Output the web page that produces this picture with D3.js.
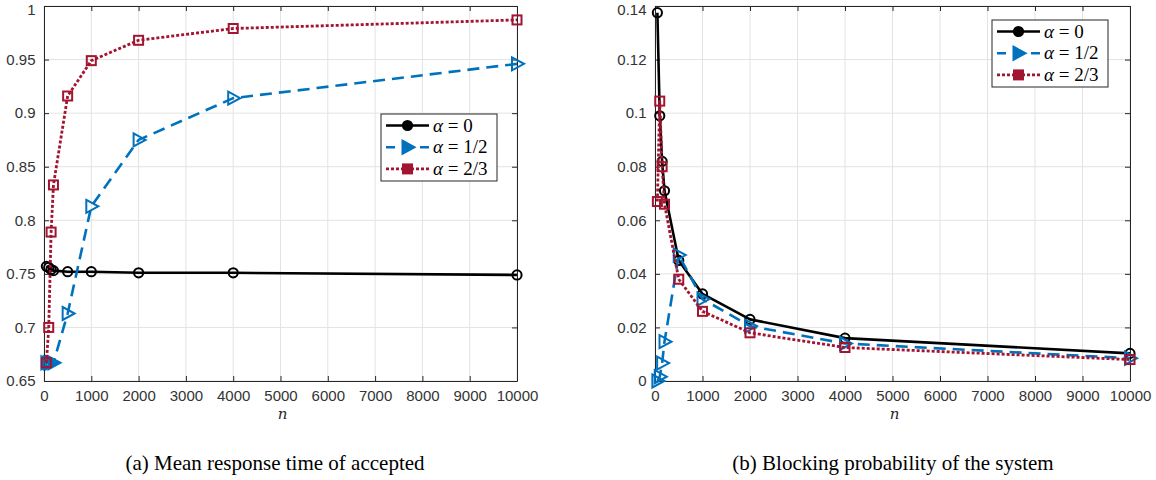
<!DOCTYPE html>
<html>
<head>
<meta charset="utf-8">
<script src="https://cdn.jsdelivr.net/npm/d3@7"></script>
<style>
  body { margin: 0; background: #fff; }
  svg { display: block; }
  .tick text { font-family: "Liberation Sans", Arial, sans-serif; font-size: 15px; fill: #333; }
</style>
</head>
<body>
<div id="chart"></div>
<script>
// sample sizes n
const nValues = [50, 100, 150, 200, 500, 1000, 2000, 4000, 10000];

// (a) mean response time of accepted
const respAlpha0  = [0.757, 0.756, 0.754, 0.753, 0.752, 0.752, 0.751, 0.751, 0.749];
const respAlpha12 = [0.667, 0.667, 0.667, 0.667, 0.713, 0.813, 0.875, 0.914, 0.946];
const respAlpha23 = [0.667, 0.700, 0.789, 0.833, 0.916, 0.949, 0.968, 0.979, 0.987];

// (b) blocking probability of the system
const blockAlpha0  = [0.1375, 0.099, 0.082, 0.071, 0.045, 0.0325, 0.023, 0.016, 0.0103];
const blockAlpha12 = [0.0, 0.0016, 0.0067, 0.0147, 0.047, 0.0306, 0.0205, 0.014, 0.0085];
const blockAlpha23 = [0.067, 0.1045, 0.080, 0.066, 0.038, 0.026, 0.018, 0.0125, 0.008];

const xTicks = [0, 1000, 2000, 3000, 4000, 5000, 6000, 7000, 8000, 9000, 10000];
const respTicks = [0.65, 0.7, 0.75, 0.8, 0.85, 0.9, 0.95, 1];
const blockTicks = [0, 0.02, 0.04, 0.06, 0.08, 0.1, 0.12, 0.14];
const legendLabels = ["0", "1/2", "2/3"];
const captions = ["(a) Mean response time of accepted", "(b) Blocking probability of the system"];

const styles = [
  {color: "#000000", dash: null, width: 2.6, marker: "circle"},
  {color: "#0072BD", dash: "12,7", width: 2.6, marker: "triangle"},
  {color: "#A2142F", dash: "3,2", width: 2.8, marker: "square"}
];

const svg = d3.select("#chart").append("svg")
    .attr("width", 1156)
    .attr("height", 480);

function drawMarker(g, type, x, y, color, filled) {
    if (type === "circle") {
        g.append("circle").attr("cx", x).attr("cy", y).attr("r", 4.6)
            .attr("fill", filled ? color : "none").attr("stroke", color).attr("stroke-width", 2);
    } else if (type === "triangle") {
        g.append("path")
            .attr("d", `M${x - 5},${y - 6.5} L${x + 7},${y} L${x - 5},${y + 6.5} Z`)
            .attr("fill", filled ? color : "none").attr("stroke", color).attr("stroke-width", 2)
            .attr("stroke-linejoin", "miter");
    } else {
        g.append("rect").attr("x", x - 4.5).attr("y", y - 4.5).attr("width", 9).attr("height", 9)
            .attr("fill", filled ? color : "none").attr("stroke", color).attr("stroke-width", 2);
    }
}

function drawPanel(p) {
    let x = d3.scaleLinear().domain([0, 10000]).range([p.left, p.right]);
    let y = d3.scaleLinear().domain(p.yDomain).range([p.bottom, p.top]);

    let g = svg.append("g");

    // grid
    g.selectAll(".gx").data(xTicks).enter().append("line")
        .attr("x1", d => x(d)).attr("x2", d => x(d))
        .attr("y1", p.top).attr("y2", p.bottom)
        .attr("stroke", "#e3e3e3").attr("stroke-width", 1);
    g.selectAll(".gy").data(p.yTicks).enter().append("line")
        .attr("x1", p.left).attr("x2", p.right)
        .attr("y1", d => y(d)).attr("y2", d => y(d))
        .attr("stroke", "#e3e3e3").attr("stroke-width", 1);

    // axes (ticks inward, box on)
    let xAxis = g.append("g").attr("transform", `translate(0,${p.bottom})`)
        .call(d3.axisBottom(x).tickValues(xTicks).tickFormat(d3.format("d")).tickSizeInner(-5).tickSizeOuter(0).tickPadding(11));
    let xAxisTop = g.append("g").attr("transform", `translate(0,${p.top})`)
        .call(d3.axisTop(x).tickValues(xTicks).tickFormat("").tickSizeInner(-5).tickSizeOuter(0));
    let yAxis = g.append("g").attr("transform", `translate(${p.left},0)`)
        .call(d3.axisLeft(y).tickValues(p.yTicks).tickFormat(d => String(+d.toFixed(2))).tickSizeInner(-5).tickSizeOuter(0).tickPadding(10));
    let yAxisRight = g.append("g").attr("transform", `translate(${p.right},0)`)
        .call(d3.axisRight(y).tickValues(p.yTicks).tickFormat("").tickSizeInner(-5).tickSizeOuter(0));
    [xAxis, xAxisTop, yAxis, yAxisRight].forEach(a => {
        a.selectAll(".domain").attr("stroke", "#262626");
        a.selectAll(".tick line").attr("stroke", "#262626");
    });
    xAxis.selectAll(".tick text").attr("dy", "0.6em");
    yAxis.selectAll(".tick text").attr("dx", "0.1em")
        .attr("dy", (d, i, n) => i === n.length - 1 ? "0.55em" : "0.32em");

    // series
    p.series.forEach((vals, i) => {
        let s = styles[i];
        let pts = nValues.map((n, j) => [x(n), y(vals[j])]);
        g.append("path")
            .attr("d", d3.line()(pts))
            .attr("fill", "none")
            .attr("stroke", s.color)
            .attr("stroke-width", s.width)
            .attr("stroke-dasharray", s.dash)
            .attr("stroke-linejoin", "round");
        let mg = g.append("g");
        pts.forEach(pt => drawMarker(mg, s.marker, pt[0], pt[1], s.color, false));
    });

    // x label
    g.append("text")
        .attr("x", (p.left + p.right) / 2 + 2).attr("y", p.bottom + 38)
        .attr("text-anchor", "middle")
        .style("font-family", "'DejaVu Serif', serif").style("font-style", "italic").style("font-size", "15px")
        .attr("fill", "#262626")
        .text("n");

    // legend
    let lg = g.append("g").attr("transform", `translate(${p.legX},${p.legY})`);
    lg.append("rect").attr("x", 0).attr("y", 0).attr("width", 116).attr("height", 67)
        .attr("fill", "#fff").attr("stroke", "#262626").attr("stroke-width", 1);
    legendLabels.forEach((lab, i) => {
        let s = styles[i];
        let ry = 11.5 + i * 21.7;
        lg.append("line").attr("x1", 5).attr("x2", 48).attr("y1", ry).attr("y2", ry)
            .attr("stroke", s.color).attr("stroke-width", s.width)
            .attr("stroke-dasharray", s.dash === null ? null : (i === 1 ? "9,8" : "3,2"));
        drawMarker(lg, s.marker, 26.5, ry, s.color, true);
        let t = lg.append("text").attr("x", 52).attr("y", ry + 6)
            .style("font-family", "'Liberation Serif', 'DejaVu Serif', serif").style("font-size", "19px")
            .attr("fill", "#000");
        t.append("tspan").style("font-style", "italic").text("α");
        t.append("tspan").text(" = " + lab);
    });

    // caption
    svg.append("text")
        .attr("x", p.capX).attr("y", 470)
        .attr("text-anchor", "middle")
        .style("font-family", "'Liberation Serif', 'DejaVu Serif', serif").style("font-size", "21px")
        .attr("fill", "#000")
        .text(p.caption);
}

drawPanel({
    left: 44, right: 517, top: 6, bottom: 381,
    yDomain: [0.65, 1], yTicks: respTicks,
    series: [respAlpha0, respAlpha12, respAlpha23],
    legX: 381, legY: 114, capX: 275, caption: captions[0]
});

drawPanel({
    left: 655, right: 1130, top: 6, bottom: 381,
    yDomain: [0, 0.14], yTicks: blockTicks,
    series: [blockAlpha0, blockAlpha12, blockAlpha23],
    legX: 992, legY: 20, capX: 893, caption: captions[1]
});
</script>
</body>
</html>
